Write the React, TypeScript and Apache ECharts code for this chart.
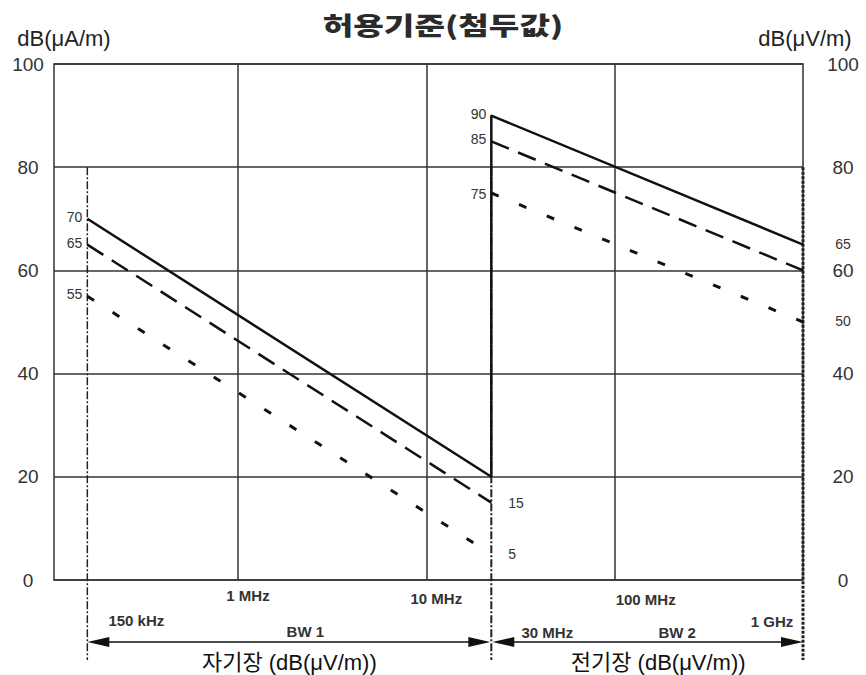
import React, { useEffect, useRef } from "react";
import * as echarts from "echarts";

// ---- data (x = schematic decade position relative to 1 MHz) ----
const xMin = -0.977;
const xMax = 3;
const decadeGridLines = [0, 1, 2]; // 1 MHz, 10 MHz, 100 MHz
const pos150k = -0.8;
const pos30M = 1.345;
const pos1G = 3;

const lineA = [[pos150k, 70], [pos30M, 20], [pos30M, 90], [pos1G, 65]];
const lineB1 = [[pos150k, 65], [pos30M, 15]];
const lineB2 = [[pos30M, 85], [pos1G, 60]];
const lineC1 = [[pos150k, 55], [pos30M, 5]];
const lineC2 = [[pos30M, 75], [pos1G, 50]];

const curveLabels = [
  { name: "A", value: [0.34, 49.4] },
  { name: "B", value: [0.32, 35.5] },
  { name: "C", value: [0.28, 25.6] },
  { name: "A", value: [2.453, 76.2] },
  { name: "B", value: [2.437, 67.1] },
  { name: "C", value: [2.437, 54.8] },
];

const leftNotes = [
  { text: "70", x: pos150k, y: 70 },
  { text: "65", x: pos150k, y: 65 },
  { text: "55", x: pos150k, y: 55 },
  { text: "90", x: pos30M, y: 90 },
  { text: "85", x: pos30M, y: 85 },
  { text: "75", x: pos30M, y: 74.5 },
];
const rightNotes = [
  { text: "15", x: pos30M, y: 15 },
  { text: "5", x: pos30M, y: 5 },
];
const axisNotes = [
  { text: "65", y: 65 },
  { text: "50", y: 50 },
];

const freqTop = [
  { text: "1 MHz", x: 0 },
  { text: "10 MHz", x: 1 },
  { text: "100 MHz", x: 2 },
];
const freqBottom = [
  { text: "150 kHz", x: pos150k },
  { text: "30 MHz", x: pos30M },
  { text: "1 GHz", x: pos1G },
];

const titleText = "허용기준(첨두값)";
const leftUnit = "dB(μA/m)";
const rightUnit = "dB(μV/m)";
const band1Name = "BW 1";
const band2Name = "BW 2";
const field1 = "자기장 (dB(μV/m))";
const field2 = "전기장 (dB(μV/m))";

// ---- layout / style (pixel offsets) ----
const freqTopDx = [10, 10, 31];
const freqTopDy = [15, 18, 19];
const freqBottomDx = [49, 56, -31];
const freqBottomDy = [40, 52, 41];

const LATIN = "'Liberation Sans', Arial, sans-serif";
const MIXED = "'Liberation Sans', 'Noto Sans CJK KR', sans-serif";
const INK = "#111";
const TXT = "#333";

export default function App() {
  const ref = useRef<HTMLDivElement>(null);

  useEffect(() => {
    document.body.style.margin = "0";
    const chart = echarts.init(ref.current!, null, { renderer: "svg" });

    const lineSeries = (data: number[][], type: any, width: number, withGrid = false) => ({
      type: "line",
      data,
      symbol: "none",
      silent: true,
      lineStyle: { color: INK, width, type },
      z: 5,
      ...(withGrid
        ? {
            markLine: {
              silent: true,
              symbol: "none",
              label: { show: false },
              lineStyle: { type: "solid", color: TXT, width: 1.5 },
              data: decadeGridLines.map((v) => ({ xAxis: v })),
              z: 1,
            },
          }
        : {}),
    });

    chart.setOption({
      animation: false,
      grid: {
        left: 54,
        right: 63,
        top: 64,
        bottom: 95,
        show: true,
        borderColor: TXT,
        borderWidth: 1.5,
      },
      xAxis: {
        type: "value",
        min: xMin,
        max: xMax,
        axisLine: { show: false },
        axisTick: { show: false },
        axisLabel: { show: false },
        splitLine: { show: false },
      },
      yAxis: [
        {
          type: "value",
          min: 0,
          max: 100,
          interval: 20,
          axisLine: { show: false },
          axisTick: { show: false },
          axisLabel: {
            fontSize: 19,
            color: TXT,
            fontFamily: LATIN,
            align: "center",
            margin: 26,
          },
          splitLine: { lineStyle: { color: TXT, width: 1.5 } },
        },
        {
          type: "value",
          position: "right",
          min: 0,
          max: 100,
          interval: 20,
          axisLine: { show: false },
          axisTick: { show: false },
          axisLabel: {
            fontSize: 19,
            color: TXT,
            fontFamily: LATIN,
            align: "center",
            margin: 40,
          },
          splitLine: { show: false },
        },
      ],
      series: [
        lineSeries(lineA, "solid", 2.5, true),
        lineSeries(lineB1, [19, 10], 2.5),
        lineSeries(lineB2, [19, 10], 2.5),
        lineSeries(lineC1, [8, 22], 3),
        lineSeries(lineC2, [8, 22], 3),
        {
          type: "scatter",
          data: curveLabels,
          symbolSize: 1,
          itemStyle: { opacity: 0 },
          silent: true,
          label: {
            show: true,
            position: "inside",
            formatter: "{b}",
            fontSize: 17,
            color: TXT,
            fontFamily: LATIN,
          },
          z: 6,
        },
      ],
    });

    const px = (x: number, y: number) =>
      chart.convertToPixel({ xAxisIndex: 0, yAxisIndex: 0 }, [x, y]) as number[];
    const bottom = px(0, 0)[1];
    const rightEdge = px(xMax, 0)[0];
    const y80 = px(0, 80)[1];
    const graphic: any[] = [];

    const text = (t: string, x: number, y: number, style: any = {}, extra: any = {}) =>
      graphic.push({
        type: "text",
        x,
        y,
        silent: true,
        ...extra,
        style: {
          text: t,
          fill: TXT,
          fontFamily: LATIN,
          fontSize: 15,
          align: "center",
          verticalAlign: "middle",
          ...style,
        },
        z: 20,
      });

    // title + unit titles
    text(titleText, 443, 24, {
      fontFamily: "'Noto Sans CJK KR', sans-serif",
      fontWeight: 900,
      fontSize: 25,
      fill: "#2b2b2b",
    }, { scaleX: 1.33 });
    text(leftUnit, 64, 38, { fontSize: 22, fill: "#222" });
    text(rightUnit, 805, 38, { fontSize: 22, fill: "#222" });

    // vertical dash-dot boundary lines
    const vline = (xv: number, width: number, dash: number[]) => {
      const xp = px(xv, 0)[0];
      graphic.push({
        type: "line",
        silent: true,
        shape: { x1: xp, y1: y80, x2: xp, y2: bottom + 80 },
        style: { stroke: "#222", lineWidth: width, lineDash: dash },
        z: 4,
      });
    };
    vline(pos150k, 1.5, [8, 2, 2, 2]);
    vline(pos30M, 2, [8, 2, 2, 2]);
    vline(pos1G, 3, [3, 1.5]);

    // value notes
    leftNotes.forEach((n) => {
      const p = px(n.x, n.y);
      text(n.text, p[0] - 5, p[1] - 2, { align: "right", fontSize: 14 });
    });
    rightNotes.forEach((n) => {
      const p = px(n.x, n.y);
      text(n.text, p[0] + 17, p[1], { align: "left", fontSize: 14 });
    });
    axisNotes.forEach((n) => {
      const p = px(xMax, n.y);
      text(n.text, rightEdge + 40, p[1] - 1, { fontSize: 14 });
    });

    // frequency labels
    freqTop.forEach((f, i) => {
      const p = px(f.x, 0);
      text(f.text, p[0] + freqTopDx[i], bottom + freqTopDy[i], { fontWeight: "bold", fontSize: 15 });
    });
    freqBottom.forEach((f, i) => {
      const p = px(f.x, 0);
      text(f.text, p[0] + freqBottomDx[i], bottom + freqBottomDy[i], { fontWeight: "bold", fontSize: 15 });
    });

    // band arrows
    const arrowY = bottom + 62;
    const x150 = px(pos150k, 0)[0];
    const x30 = px(pos30M, 0)[0];
    const x1G = px(pos1G, 0)[0];
    const arrow = (xa: number, xb: number) => {
      graphic.push({
        type: "line",
        silent: true,
        shape: { x1: xa + 10, y1: arrowY, x2: xb - 10, y2: arrowY },
        style: { stroke: INK, lineWidth: 1.5 },
        z: 10,
      });
      graphic.push({
        type: "polygon",
        silent: true,
        shape: { points: [[xa, arrowY], [xa + 22, arrowY - 5], [xa + 22, arrowY + 5]] },
        style: { fill: INK },
        z: 10,
      });
      graphic.push({
        type: "polygon",
        silent: true,
        shape: { points: [[xb, arrowY], [xb - 22, arrowY - 5], [xb - 22, arrowY + 5]] },
        style: { fill: INK },
        z: 10,
      });
    };
    arrow(x150, x30 - 1);
    arrow(x30 + 1, x1G);
    text(band1Name, (x150 + x30) / 2 + 16, bottom + 51, { fontWeight: "bold", fontSize: 15 });
    text(band2Name, (x30 + x1G) / 2 + 30, bottom + 52, { fontWeight: "bold", fontSize: 15 });
    text(field1, (x150 + x30) / 2, bottom + 82, { fontFamily: MIXED, fontSize: 22, fill: "#111" });
    text(field2, (x30 + x1G) / 2 + 11, bottom + 82, { fontFamily: MIXED, fontSize: 22, fill: "#111" });

    chart.setOption({ graphic });

    return () => chart.dispose();
  }, []);

  return <div ref={ref} style={{ width: 866, height: 675 }} />;
}
